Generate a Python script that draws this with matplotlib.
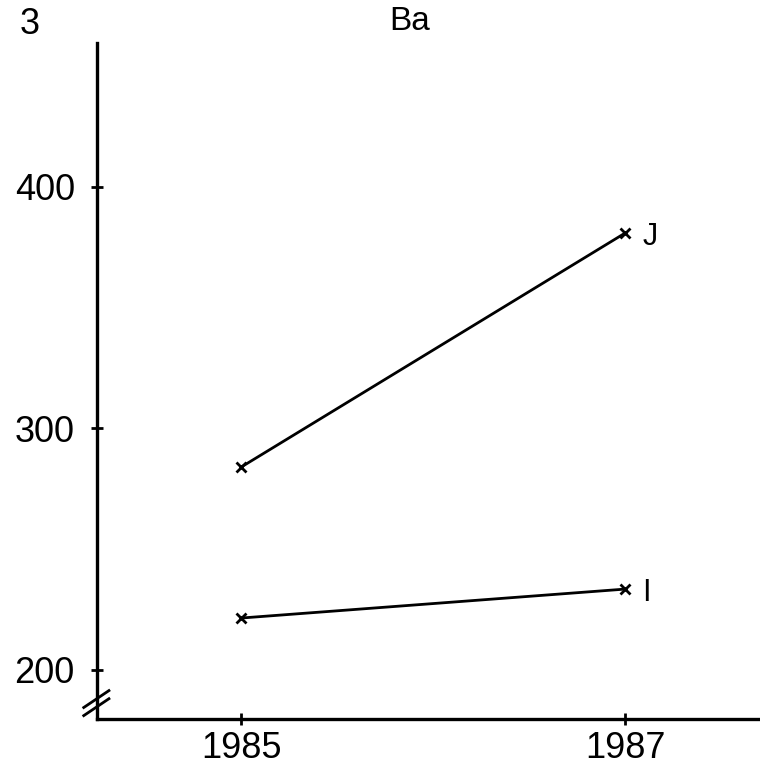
import numpy as np
import matplotlib.pyplot as plt

plt.rcParams['font.family'] = ['Liberation Sans', 'DejaVu Sans']

# --------------- Data ---------------
years = [1985, 1987]
ba_J = [284, 381]
ba_I = [221.5, 233.5]
series_labels = ['J', 'I']
yticks = [200, 300, 400]
xticks = [1985, 1987]

W, H = 760, 772
fig = plt.figure(figsize=(W / 100, H / 100), dpi=100)
ax = fig.add_axes([97 / W, 53 / H, (W - 97) / W, (719 - 43) / H])

for vals, lab in zip([ba_J, ba_I], series_labels):
    ax.plot(years, vals, color='black', lw=2.0, marker='x', ms=7, mew=2.0)
    ax.annotate(lab, (years[-1], vals[-1]), xytext=(12, -3), textcoords='offset points',
                fontsize=22, va='center', ha='left')

ax.set_xlim(1984.25, 1987.7)
ax.set_ylim(179.7, 459.6)
ax.set_xticks(xticks)
ax.set_yticks(yticks)
ax.tick_params(direction='inout', length=8, width=2, labelsize=26)
ax.tick_params(axis='x', pad=5)
ax.tick_params(axis='y', pad=12)
for s in ['top', 'right']:
    ax.spines[s].set_visible(False)
for s in ['left', 'bottom']:
    ax.spines[s].set_linewidth(2.4)

# axis break mark on the y axis
for dy in [0.0, 0.012]:
    ax.plot([-0.02, 0.018], [0.005 + dy, 0.03 + dy], transform=ax.transAxes,
            color='black', lw=2.0, clip_on=False)

fig.text(20 / W, 1 - 25 / H, '3', fontsize=26, ha='left', va='center')
fig.text(410 / W, 1 - 22 / H, 'Ba', fontsize=24, ha='center', va='center')

fig.savefig('out.png', dpi=100, facecolor='white')
